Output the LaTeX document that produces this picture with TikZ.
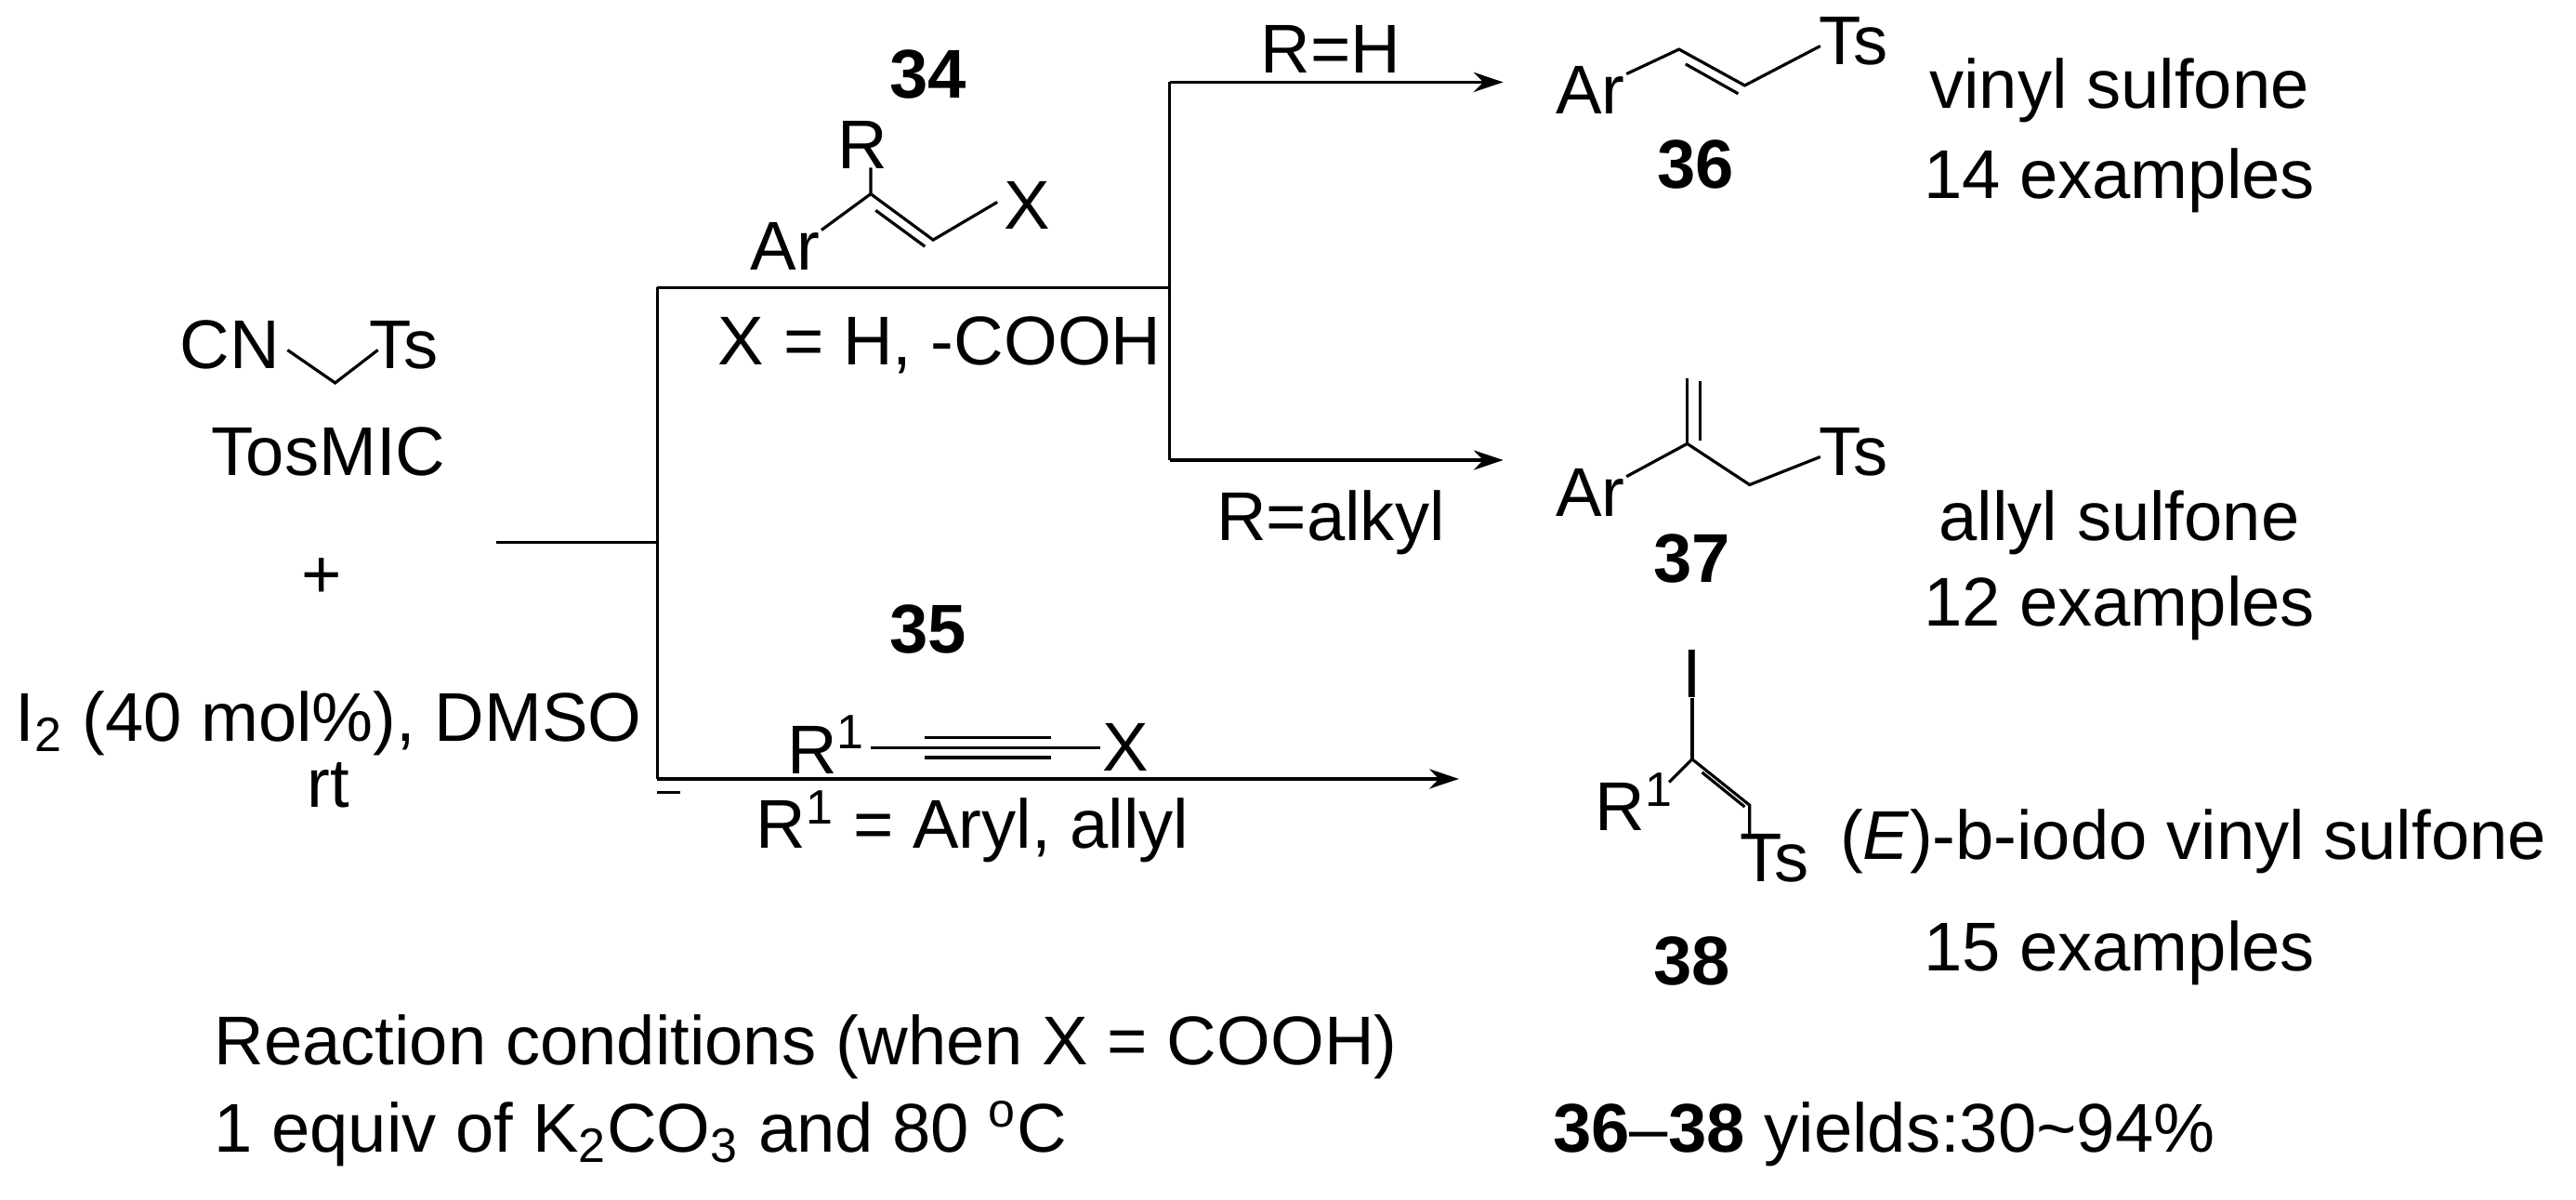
\documentclass[tikz,border=0pt]{standalone}
\usepackage{fontspec}
\setmainfont{Liberation Sans}
\usetikzlibrary{arrows.meta}
\begin{document}
\begin{tikzpicture}[x=0.5pt,y=-0.5pt,
  every node/.style={font=\fontsize{21}{25}\selectfont, inner sep=0pt},
  bond/.style={line width=0.9pt},
  arr/.style={line width=0.9pt,-{Stealth[length=9pt,width=6pt]}},
  lab/.style={font=\fontsize{21}{25}\selectfont\bfseries}]
\useasboundingbox (0,0) rectangle (1568,730);
% TosMIC
\node (cn) at (140,210) {CN};
\node (ts0) at (246,210) {Ts};
\coordinate (m0) at (204,233);
\draw[bond] (175,213) -- (m0) -- (230,213);
\node (tos) at (200,275) {TosMIC};
\node (plus) at (196,352) {+};
\node (cond) at (200,440) {I\textsubscript{2} (40 mol\%), DMSO};
\node (rt) at (200,478) {rt};
% scheme lines
\coordinate (a0) at (302,330);
\coordinate (a1) at (400,330);
\coordinate (a2) at (400,175);
\coordinate (a3) at (400,474);
\coordinate (a4) at (712,175);
\coordinate (b1) at (712,50);
\coordinate (b2) at (712,280);
\coordinate (e36) at (915,50);
\coordinate (e37) at (915,280);
\coordinate (e38) at (888,474);
\draw[bond] (a0) -- (a1);
\draw[bond] (a2) -- (a3);
\draw[bond] (a2) -- (a4);
\draw[bond] (b1) -- (b2);
\draw[arr] (b1) -- (e36);
\draw[arr] (b2) -- (e37);
\draw[arr] (a3) -- (e38);
\draw[bond] (400,482) -- (414,482);
\node (rh) at (810,30) {R=H};
\node (ralk) at (810,318) {R=alkyl};
% 34
\node[lab] (n34) at (565,45) {34};
\node (r34) at (525,88) {R};
\node (ar34) at (478,150) {Ar};
\node (x34) at (625,125) {X};
\coordinate (c1) at (530,118);
\coordinate (c2) at (568,146);
\draw[bond] (500,140) -- (c1) -- (530,102);
\draw[bond] (c1) -- (c2) -- (607,123);
\draw[bond] (533,128) -- (563,150);
\node (x34t) at (572,210) {X = H, -COOH};
% 35
\node[lab] (n35) at (565,383) {35};
\node (r35) at (503,453) {R\textsuperscript{1}};
\node (x35) at (685,455) {X};
\draw[bond] (530,455) -- (670,455);
\draw[bond] (563,449) -- (640,449);
\draw[bond] (563,461) -- (640,461);
\node (r35t) at (592,503) {R\textsuperscript{1} = Aryl, allyl};
% 36
\node (ar36) at (968,55) {Ar};
\node (ts36) at (1128,25) {Ts};
\coordinate (d1) at (1022,30);
\coordinate (d2) at (1062,52);
\draw[bond] (990,45) -- (d1) -- (d2) -- (1108,28);
\draw[bond] (1026,39) -- (1058,57);
\node[lab] (n36) at (1032,100) {36};
\node (vs) at (1290,55) {vinyl sulfone};
\node (ex14) at (1290,110) {14 examples};
% 37
\node (ar37) at (968,300) {Ar};
\node (ts37) at (1128,275) {Ts};
\coordinate (f1) at (1027,270);
\coordinate (f2) at (1065,295);
\draw[bond] (990,290) -- (f1) -- (f2) -- (1108,278);
\draw[bond] (f1) -- (1027,230);
\draw[bond] (1035,268) -- (1035,232);
\node[lab] (n37) at (1030,340) {37};
\node (as) at (1290,318) {allyl sulfone};
\node (ex12) at (1290,370) {12 examples};
% 38
\node (i38) at (1030,410) {I};
\node (r38) at (995,488) {R\textsuperscript{1}};
\node (ts38) at (1080,522) {Ts};
\coordinate (g1) at (1030,462);
\coordinate (g2) at (1065,490);
\draw[bond] (1030,425) -- (g1);
\draw[bond] (1016,476) -- (g1) -- (g2) -- (1065,508);
\draw[bond] (1036,470) -- (1062,491);
\node[lab] (n38) at (1030,585) {38};
\node (iv) at (1335,512) {(\textit{E})-b-iodo vinyl sulfone};
\node (ex15) at (1290,580) {15 examples};
% footer
\node[anchor=west] (rc) at (130,637) {Reaction conditions (when X = COOH)};
\node[anchor=west] (eq) at (130,690) {1 equiv of K\textsubscript{2}CO\textsubscript{3} and 80 \textsuperscript{o}C};
\node[anchor=west] (yl) at (945,690) {\textbf{36}--\textbf{38} yields:30\textasciitilde94\%};
\end{tikzpicture}
\end{document}
